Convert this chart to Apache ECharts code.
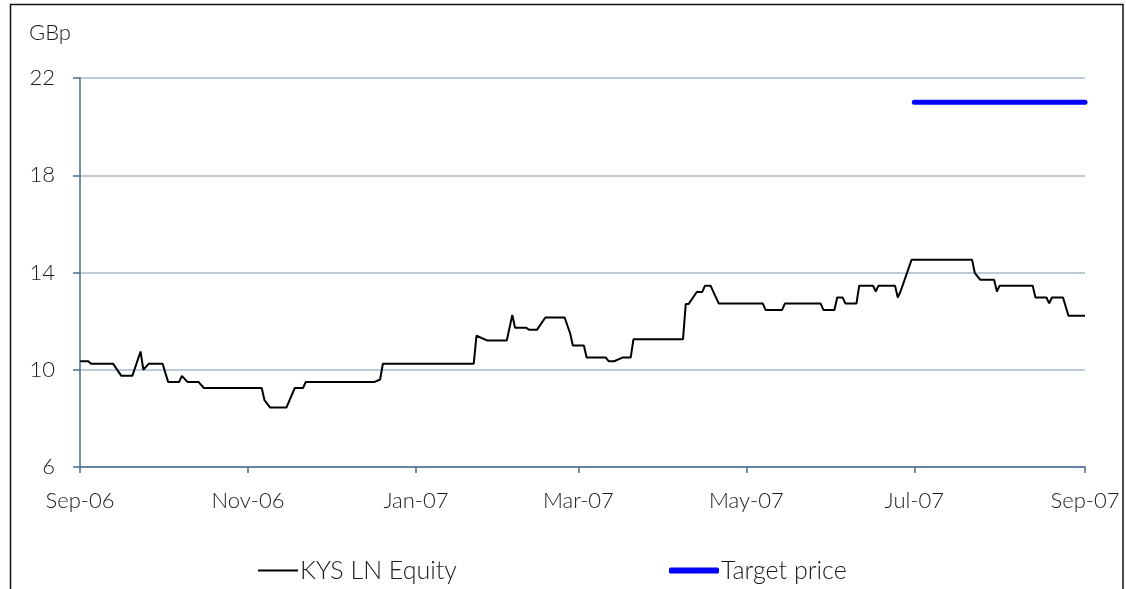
<!DOCTYPE html>
<html>
<head>
<meta charset="utf-8">
<script src="https://cdn.jsdelivr.net/npm/echarts@6/dist/echarts.min.js"></script>
<style>
html,body{margin:0;padding:0;background:#fff;}
#chart{width:1126px;height:589px;}
</style>
</head>
<body>
<div id="chart"></div>
<script>
// ---- data ----
var priceDates = [
  '2006-09-01','2006-09-04','2006-09-05','2006-09-13','2006-09-16','2006-09-20','2006-09-23','2006-09-24','2006-09-26',
  '2006-10-01','2006-10-03','2006-10-07','2006-10-08','2006-10-10','2006-10-14','2006-10-16',
  '2006-11-06','2006-11-07','2006-11-09','2006-11-15','2006-11-18','2006-11-21','2006-11-22',
  '2006-12-17','2006-12-19','2006-12-20',
  '2007-01-22','2007-01-23','2007-01-27',
  '2007-02-03','2007-02-05','2007-02-06','2007-02-10','2007-02-11','2007-02-14','2007-02-17','2007-02-24','2007-02-26','2007-02-27',
  '2007-03-03','2007-03-04','2007-03-11','2007-03-12','2007-03-14','2007-03-17','2007-03-20','2007-03-21',
  '2007-04-08','2007-04-09','2007-04-10','2007-04-13','2007-04-15','2007-04-16','2007-04-18','2007-04-21',
  '2007-05-07','2007-05-08','2007-05-14','2007-05-15','2007-05-28','2007-05-29',
  '2007-06-02','2007-06-03','2007-06-05','2007-06-06','2007-06-10','2007-06-11','2007-06-16','2007-06-17','2007-06-18',
  '2007-06-24','2007-06-25','2007-06-26','2007-06-30',
  '2007-07-22','2007-07-23','2007-07-25','2007-07-30','2007-07-31',
  '2007-08-01','2007-08-13','2007-08-14','2007-08-18','2007-08-19','2007-08-20','2007-08-24','2007-08-26',
  '2007-09-01'
];
var priceValues = [
  10.35,10.35,10.25,10.25,9.75,9.75,10.75,10.0,10.25,
  10.25,9.5,9.5,9.75,9.5,9.5,9.25,
  9.25,8.75,8.45,8.45,9.25,9.25,9.5,
  9.5,9.6,10.25,
  10.25,11.4,11.2,
  11.2,12.25,11.73,11.73,11.65,11.65,12.15,12.15,11.5,11.0,
  11.0,10.5,10.5,10.35,10.35,10.5,10.5,11.25,
  11.25,12.7,12.7,13.2,13.2,13.46,13.46,12.72,
  12.72,12.46,12.46,12.72,12.72,12.46,
  12.46,12.97,12.97,12.72,12.72,13.46,13.46,13.22,13.46,
  13.46,12.97,13.22,14.52,
  14.52,13.97,13.7,13.7,13.22,
  13.46,13.46,12.97,12.97,12.73,12.97,12.97,12.22,
  12.22
];
var targetDates = ['2007-07-01','2007-09-01'];
var targetValues = [21.0, 21.0];
var tickDates = ['2006-09-01','2006-11-01','2007-01-01','2007-03-01','2007-05-01','2007-07-01','2007-09-01'];
var monthNames = ['Jan','Feb','Mar','Apr','May','Jun','Jul','Aug','Sep','Oct','Nov','Dec'];
var seriesNames = ['KYS LN Equity','Target price'];
var yMin = 6, yMax = 22, yStep = 4;

// ---- build ----
function toTime(s){ var p = s.split('-'); return new Date(+p[0], +p[1]-1, +p[2]).getTime(); }
var priceData = priceDates.map(function(d,i){ return [toTime(d), priceValues[i]]; });
var targetData = targetDates.map(function(d,i){ return [toTime(d), targetValues[i]]; });
var tickTimes = tickDates.map(toTime);

var FONT = 'Lato';
var TXT = '#1a1a1a';
var chart = echarts.init(document.getElementById('chart'), null, {renderer:'canvas'});
chart.setOption({
  animation: false,
  backgroundColor: '#fff',
  textStyle: {fontFamily: FONT},
  title: {
    text: 'GBp', left: 24, top: 17,
    textStyle: {fontFamily: FONT, fontSize: 22, fontWeight: 300, color: TXT}
  },
  graphic: [{
    type: 'rect', silent: true,
    shape: {x: 10.5, y: 4.5, width: 1112.5, height: 620},
    style: {fill: null, stroke: '#111', lineWidth: 1.5}
  }],
  grid: {left: 80, right: 41, top: 78, bottom: 122, containLabel: false},
  legend: [{
    data: [{name: seriesNames[0], icon: 'rect'}],
    left: 253, top: 553, itemWidth: 40, itemHeight: 2, itemGap: 0,
    textStyle: {fontFamily: FONT, fontSize: 25, fontWeight: 300, color: TXT, padding: [0,0,0,-3]}
  }, {
    data: [{name: seriesNames[1], icon: 'roundRect'}],
    left: 664, top: 553, itemWidth: 50, itemHeight: 6, itemGap: 0,
    textStyle: {fontFamily: FONT, fontSize: 25, fontWeight: 300, color: TXT, padding: [0,0,0,-3]}
  }],
  xAxis: {
    type: 'value',
    min: tickTimes[0], max: tickTimes[tickTimes.length-1],
    axisLine: {lineStyle: {color: '#4a6d8e', width: 1.5}},
    axisTick: {show: true, customValues: tickTimes, length: 6, lineStyle: {color: '#4a6d8e', width: 1.5}},
    axisLabel: {
      customValues: tickTimes, margin: 23, color: TXT, fontFamily: FONT, fontSize: 22, fontWeight: 300,
      formatter: function(v){ var d = new Date(v); return monthNames[d.getMonth()] + '-' + String(d.getFullYear()).slice(2); }
    },
    splitLine: {show: false}
  },
  yAxis: {
    type: 'value', min: yMin, max: yMax, interval: yStep,
    axisLine: {show: true, lineStyle: {color: '#4a6d8e', width: 1.5}},
    axisTick: {show: true, length: 7, lineStyle: {color: '#4a6d8e', width: 1.5}},
    axisLabel: {margin: 25, color: TXT, fontFamily: FONT, fontSize: 22, fontWeight: 300},
    splitLine: {show: true, lineStyle: {color: '#a9b8c8', width: 1.5}}
  },
  series: [{
    name: seriesNames[0], type: 'line', data: priceData,
    showSymbol: false, symbol: 'none',
    itemStyle: {color: '#000'},
    lineStyle: {color: '#000', width: 2}
  }, {
    name: seriesNames[1], type: 'line', data: targetData,
    showSymbol: false, symbol: 'none',
    itemStyle: {color: '#0000ff'},
    lineStyle: {color: '#0000ff', width: 5, cap: 'round'}
  }]
});
</script>
</body>
</html>
